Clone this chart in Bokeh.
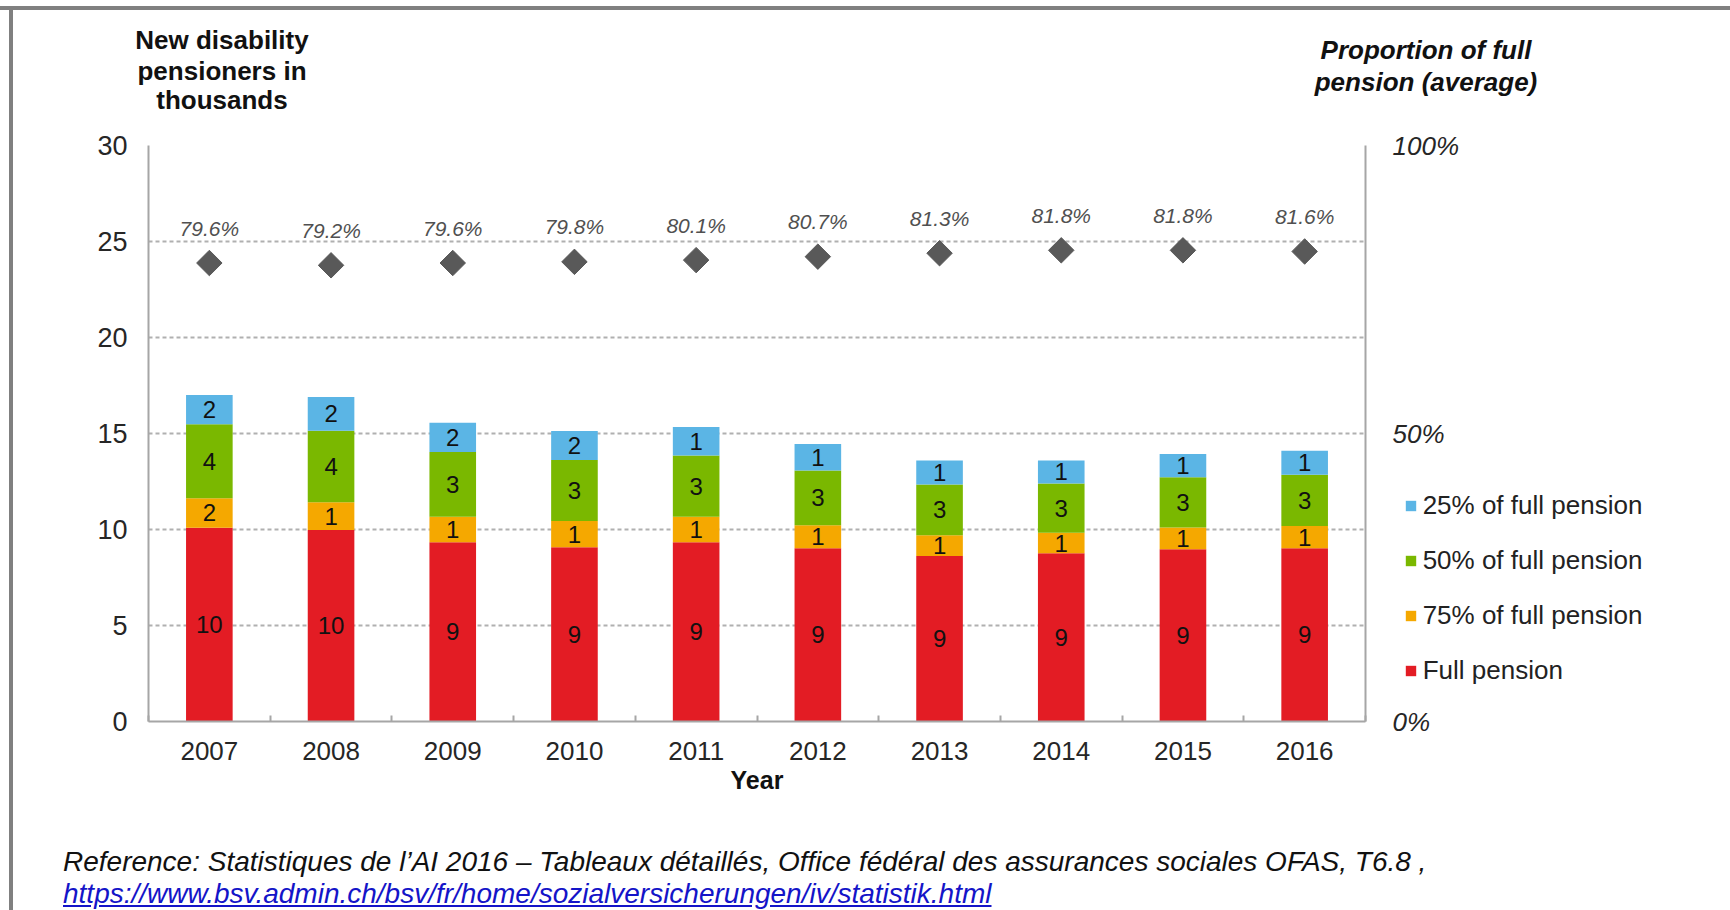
import numpy as np
from bokeh.plotting import figure
from bokeh.layouts import column, row
from bokeh.models import (Range1d, LinearAxis, FixedTicker, PrintfTickFormatter,
                          ColumnDataSource, Legend, LegendItem, Div)
from bokeh.core.properties import value
from bokeh.embed import file_html
from bokeh.resources import INLINE

# ---------------- data ----------------
years = ["2007", "2008", "2009", "2010", "2011", "2012", "2013", "2014", "2015", "2016"]
full_pension = [10.09, 9.97, 9.33, 9.07, 9.33, 9.02, 8.62, 8.76, 8.97, 9.02]
pension_75 = [1.54, 1.45, 1.34, 1.37, 1.34, 1.20, 1.08, 1.07, 1.13, 1.16]
pension_50 = [3.85, 3.72, 3.37, 3.18, 3.19, 2.85, 2.65, 2.57, 2.62, 2.67]
pension_25 = [1.52, 1.76, 1.52, 1.51, 1.48, 1.38, 1.25, 1.20, 1.21, 1.25]
avg_share = [79.6, 79.2, 79.6, 79.8, 80.1, 80.7, 81.3, 81.8, 81.8, 81.6]
series_names = ["Full pension", "75% of full pension", "50% of full pension", "25% of full pension"]
series_colors = ["#e31c24", "#f5a800", "#7ab800", "#5bb5e5"]
y_ticks = [0, 5, 10, 15, 20, 25, 30]
pct_ticks = [0, 50, 100]
left_title = ["New disability", "pensioners in", "thousands"]
right_title = ["Proportion of full", "pension (average)"]
x_title = "Year"
source_note = ("Reference: Statistiques de l\u2019AI 2016 \u2013 Tableaux d\u00e9taill\u00e9s, "
               "Office f\u00e9d\u00e9ral des assurances sociales OFAS, T6.8 ,")
source_url = "https://www.bsv.admin.ch/bsv/fr/home/sozialversicherungen/iv/statistik.html"

FONT = "Liberation Sans"
W = 1730
TOP_H, P_H, FOOT_H, STRIP_W = 125, 680, 105, 14
BORDER = "#808080"

n = len(years)
xs = [i + 0.5 for i in range(n)]
src = ColumnDataSource(dict(x=xs, full=full_pension, p75=pension_75, p50=pension_50, p25=pension_25))

p = figure(frame_width=1217, frame_height=576, x_range=Range1d(0, n), y_range=Range1d(0, 30),
           output_backend="svg", toolbar_location=None,
           min_border_left=134, min_border_right=365, min_border_top=20, min_border_bottom=84)
p.outline_line_color = None
p.extra_y_ranges = {"pct": Range1d(0, 100)}

renderers = p.vbar_stack(["full", "p75", "p50", "p25"], x="x", width=0.383,
                         fill_color=series_colors, line_color=None, source=src)

# segment labels (rounded values, centred in each segment)
stack = np.array([full_pension, pension_75, pension_50, pension_25])
bottoms = np.vstack([np.zeros(n), np.cumsum(stack, axis=0)[:-1]])
mids = bottoms + stack / 2
lab_src = ColumnDataSource(dict(x=np.tile(xs, 4), y=mids.flatten(),
                                t=[f"{v:.0f}" for v in stack.flatten()]))
p.text(x="x", y="y", text="t", source=lab_src, text_align="center", text_baseline="middle",
       text_font=value(FONT), text_font_size="24px", text_color="#111111")

# average proportion markers
dsrc = ColumnDataSource(dict(x=xs, y=avg_share, t=[f"{v:.1f}%" for v in avg_share]))
p.scatter(x="x", y="y", source=dsrc, y_range_name="pct", marker="square", angle=np.pi / 4,
          size=18, fill_color="#595959", line_color="#595959")
p.text(x="x", y="y", text="t", source=dsrc, y_range_name="pct", y_offset=-35,
       text_align="center", text_baseline="middle", text_font=value(FONT),
       text_font_size="21px", text_font_style="italic", text_color="#505050")

# x axis
p.xaxis.ticker = FixedTicker(ticks=xs, minor_ticks=list(range(0, n + 1)))
p.xaxis.major_label_overrides = {x: y for x, y in zip(xs, years)}
p.xaxis.major_tick_in = 0
p.xaxis.major_tick_out = 0
p.xaxis.minor_tick_in = 6
p.xaxis.minor_tick_out = 0
p.xaxis.minor_tick_line_color = "#a6a6a6"
p.xaxis.minor_tick_line_width = 2
p.xaxis.axis_line_color = "#a6a6a6"
p.xaxis.axis_line_width = 2
p.xaxis.major_label_text_font = FONT
p.xaxis.major_label_text_font_size = "26px"
p.xaxis.major_label_text_color = "#262626"
p.xaxis.major_label_standoff = 20
p.xaxis.axis_label = x_title
p.xaxis.axis_label_text_font = FONT
p.xaxis.axis_label_text_font_size = "25px"
p.xaxis.axis_label_text_font_style = "bold"
p.xaxis.axis_label_text_color = "#111111"
p.xaxis.axis_label_standoff = 3

# left axis
p.yaxis.ticker = FixedTicker(ticks=y_ticks)
p.yaxis.major_tick_in = 0
p.yaxis.major_tick_out = 0
p.yaxis.minor_tick_line_color = None
p.yaxis.axis_line_color = "#a6a6a6"
p.yaxis.axis_line_width = 2
p.yaxis.major_label_text_font = FONT
p.yaxis.major_label_text_font_size = "27px"
p.yaxis.major_label_text_color = "#262626"
p.yaxis.major_label_standoff = 21

# right axis (percent)
ax2 = LinearAxis(y_range_name="pct", ticker=FixedTicker(ticks=pct_ticks),
                 formatter=PrintfTickFormatter(format="%d%%"))
ax2.major_tick_in = 0
ax2.major_tick_out = 0
ax2.minor_tick_line_color = None
ax2.axis_line_color = "#a6a6a6"
ax2.axis_line_width = 2
ax2.major_label_text_font = FONT
ax2.major_label_text_font_size = "26px"
ax2.major_label_text_font_style = "italic"
ax2.major_label_text_color = "#262626"
ax2.major_label_standoff = 27
p.add_layout(ax2, "right")

p.xgrid.grid_line_color = None
p.ygrid.ticker = FixedTicker(ticks=y_ticks[1:])
p.ygrid.grid_line_color = "#b0b0b0"
p.ygrid.grid_line_dash = "4 3"
p.ygrid.grid_line_width = 2

# legend (in the right side panel)
items = [LegendItem(label=nm, renderers=[r]) for nm, r in zip(series_names, renderers)][::-1]
legend = Legend(items=items, location=(-301, 35), glyph_width=13, glyph_height=13,
                label_text_font=FONT, label_text_font_size="26px", label_text_color="#222222",
                label_height=26, spacing=24, padding=0, margin=0, label_standoff=6,
                border_line_color=None, background_fill_alpha=0)
p.add_layout(legend, "right")

# ---------------- surrounding texts and frame ----------------
def bar(left, top, width, height):
    return (f'<div style="position:absolute;left:{left}px;top:{top}px;width:{width}px;'
            f'height:{height}px;background:{BORDER};"></div>')

def ctext(t, cx, cy, size, style, weight="bold", width=420, color="#111111"):
    lh = round(size * 1.2)
    return (f'<div style="position:absolute;left:{cx - width / 2}px;top:{cy - lh / 2}px;'
            f'width:{width}px;text-align:center;white-space:nowrap;font-family:\'{FONT}\';'
            f'font-size:{size}px;line-height:{lh}px;font-weight:{weight};font-style:{style};'
            f'color:{color};">{t}</div>')

def btext(t, left, baseline, size, style, color, extra=""):
    lh = size * 1.2
    top = baseline - 0.9465 * size
    return (f'<div style="position:absolute;left:{left}px;top:{top:.1f}px;white-space:nowrap;'
            f'font-family:\'{FONT}\';font-size:{size}px;line-height:{lh:.1f}px;'
            f'font-style:{style};color:{color};{extra}">{t}</div>')

def wrap(inner, w, h):
    return f'<div style="position:relative;width:{w}px;height:{h}px;overflow:visible;">{inner}</div>'

top_html = bar(0, 6, W, 4) + bar(9, 6, 4, TOP_H - 6)
top_html += "".join(ctext(t, 222, cy, 26, "normal") for t, cy in zip(left_title, [40, 71, 100]))
top_html += "".join(ctext(t, 1426, cy, 26, "italic") for t, cy in zip(right_title, [50, 82]))
top_div = Div(text=wrap(top_html, W, TOP_H), width=W, height=TOP_H, margin=0)

strip_div = Div(text=wrap(bar(9, 0, 4, P_H), STRIP_W, P_H), width=STRIP_W, height=P_H, margin=0)

foot_y0 = TOP_H + P_H
foot_html = bar(9, 0, 4, FOOT_H)
foot_html += btext(source_note, 63, 871 - foot_y0, 28, "italic", "#111111")
foot_html += btext(source_url, 63, 903 - foot_y0, 28, "italic", "#1414c8",
                   "text-decoration:underline;")
foot_div = Div(text=wrap(foot_html, W, FOOT_H), width=W, height=FOOT_H, margin=0)

layout = column(top_div, row(strip_div, p, spacing=0), foot_div, spacing=0)

open("out.html", "w").write(file_html(layout, INLINE))
